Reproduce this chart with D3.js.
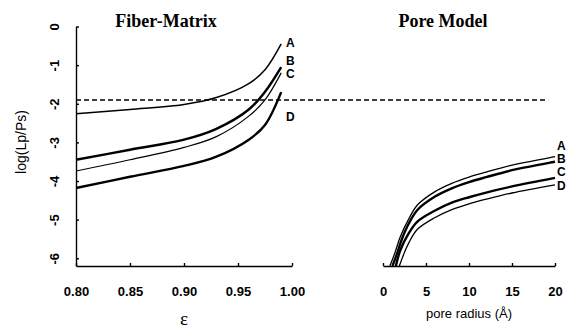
<!DOCTYPE html>
<html>
<head>
<meta charset="utf-8">
<script src="https://cdn.jsdelivr.net/npm/d3@7"></script>
<style>
  body { margin: 0; background: #fff; }
  svg text { fill: #000; }
  .tick text { font-family: "Liberation Sans", Arial, sans-serif; font-weight: bold; font-size: 13px; }
  .title { font-family: "Liberation Serif", "Times New Roman", serif; font-weight: bold; font-size: 18px; }
  .lbl { font-family: "Liberation Sans", Arial, sans-serif; font-weight: bold; font-size: 12px; }
</style>
</head>
<body>
<div id="chart"></div>
<script>
"use strict";

// Data
// ----

// Fiber-matrix panel: porosity (epsilon) vs log(Lp/Ps)
var eps   = [0.80, 0.85, 0.90, 0.93, 0.96, 0.975, 0.99];
var fmA   = [-2.26, -2.15, -2.02, -1.84, -1.48, -1.12, -0.45];
var fmB   = [-3.45, -3.19, -2.93, -2.65, -2.15, -1.69, -1.05];
var fmC   = [-3.74, -3.45, -3.13, -2.85, -2.32, -1.90, -1.20];
var fmD   = [-4.18, -3.89, -3.61, -3.37, -2.93, -2.55, -1.70];

// Pore model panel: pore radius (A) vs log(Lp/Ps)
var rA    = [0.8, 1.4, 2, 3, 4, 6, 8, 10, 12, 15, 20];
var pmA   = [-6.2, -5.85, -5.45, -4.98, -4.62, -4.28, -4.06, -3.90, -3.77, -3.59, -3.37];
var rB    = [1.1, 1.6, 2.2, 3, 4, 6, 8, 10, 12, 15, 20];
var pmB   = [-6.2, -5.9, -5.5, -5.10, -4.75, -4.41, -4.19, -4.03, -3.90, -3.72, -3.50];
var rC    = [1.5, 2, 3, 4, 6, 8, 10, 12, 15, 20];
var pmC   = [-6.2, -5.8, -5.35, -5.05, -4.77, -4.56, -4.42, -4.30, -4.14, -3.92];
var rD    = [1.9, 2.4, 3, 4, 6, 8, 10, 12, 15, 20];
var pmD   = [-6.2, -5.9, -5.6, -5.25, -4.95, -4.74, -4.59, -4.47, -4.31, -4.10];

var threshold = -1.9;

var yTicks   = [0, -1, -2, -3, -4, -5, -6];
var epsTicks = [0.80, 0.85, 0.90, 0.95, 1.00];
var rTicks   = [0, 5, 10, 15, 20];

var names = ["A", "B", "C", "D"];


// Layout
// ------

var W = 567, H = 334;

var svg = d3.select("#chart").append("svg")
    .attr("width", W)
    .attr("height", H);

var y  = d3.scaleLinear().domain([-6.2, 0]).range([266, 26.5]);
var xl = d3.scaleLinear().domain([0.80, 1.00]).range([76, 292]);
var xr = d3.scaleLinear().domain([0, 20]).range([383, 555]);


// Axes

var yAxis = svg.append("g")
    .attr("transform", "translate(" + xl.range()[0] + ",0)")
    .call(d3.axisLeft(y).tickValues(yTicks).tickSize(-3).tickSizeOuter(0)
      .tickFormat(function(d) { return String(d); }));

var xlAxis = svg.append("g")
    .attr("transform", "translate(0,266)")
    .call(d3.axisBottom(xl).tickValues(epsTicks).tickSize(-3).tickSizeOuter(0)
      .tickFormat(d3.format(".2f")));

var xrAxis = svg.append("g")
    .attr("transform", "translate(0,266)")
    .call(d3.axisBottom(xr).tickValues(rTicks).tickSize(-3).tickSizeOuter(0));

svg.selectAll(".domain, .tick line")
    .attr("stroke", "#000")
    .attr("stroke-width", 1.4);

xlAxis.selectAll(".tick text").attr("y", 30).attr("dy", null);
xrAxis.selectAll(".tick text").attr("y", 30).attr("dy", null);

yAxis.selectAll(".tick text")
    .attr("x", 0)
    .attr("dy", "0.35em")
    .attr("text-anchor", "middle")
    .attr("transform", "translate(-22,0) rotate(-90)");


// Titles and axis labels

svg.append("text").attr("class", "title")
    .attr("x", 166).attr("y", 27)
    .attr("text-anchor", "middle")
    .text("Fiber-Matrix");

svg.append("text").attr("class", "title")
    .attr("x", 443).attr("y", 27)
    .attr("text-anchor", "middle")
    .text("Pore Model");

svg.append("text")
    .attr("transform", "translate(26,142) rotate(-90)")
    .attr("text-anchor", "middle")
    .style("font-family", "'Liberation Sans', Arial, sans-serif")
    .style("font-size", "14px")
    .text("log(Lp/Ps)");

svg.append("text")
    .attr("x", 184).attr("y", 325)
    .attr("text-anchor", "middle")
    .style("font-family", "'Liberation Serif', serif")
    .style("font-size", "19px")
    .text("ε");

svg.append("text")
    .attr("x", 469).attr("y", 318)
    .attr("text-anchor", "middle")
    .style("font-family", "'Liberation Sans', Arial, sans-serif")
    .style("font-size", "13px")
    .text("pore radius (Å)");


// Threshold line

svg.append("line")
    .attr("x1", xl(0.80)).attr("x2", xr(19.2))
    .attr("y1", y(threshold)).attr("y2", y(threshold))
    .attr("stroke", "#000")
    .attr("stroke-width", 1.5)
    .attr("stroke-dasharray", "5,3");


// Curves

var line = function(xs, sx) {
  return d3.line()
      .x(function(d, i) { return sx(xs[i]); })
      .y(function(d) { return y(d); })
      .curve(d3.curveCatmullRom.alpha(0.5));
};

var fm = [fmA, fmB, fmC, fmD],
    fmW = [1.5, 2.4, 1.2, 2.4];

fm.forEach(function(s, i) {
  svg.append("path")
      .attr("d", line(eps, xl)(s))
      .attr("fill", "none")
      .attr("stroke", "#000")
      .attr("stroke-width", fmW[i]);
});

var pm = [pmA, pmB, pmC, pmD],
    pr = [rA, rB, rC, rD],
    pmW = [1.3, 2.4, 2.4, 1.3];

pm.forEach(function(s, i) {
  svg.append("path")
      .attr("d", line(pr[i], xr)(s))
      .attr("fill", "none")
      .attr("stroke", "#000")
      .attr("stroke-width", pmW[i]);
});


// Curve labels

var fmLabY = [43, 61, 74, 117],
    pmLabY = [146, 159, 172, 186];

names.forEach(function(n, i) {
  svg.append("text").attr("class", "lbl")
      .attr("x", 286).attr("y", fmLabY[i]).attr("dy", "0.35em")
      .text(n);
  svg.append("text").attr("class", "lbl")
      .attr("x", 557).attr("y", pmLabY[i]).attr("dy", "0.35em")
      .text(n);
});

</script>
</body>
</html>
